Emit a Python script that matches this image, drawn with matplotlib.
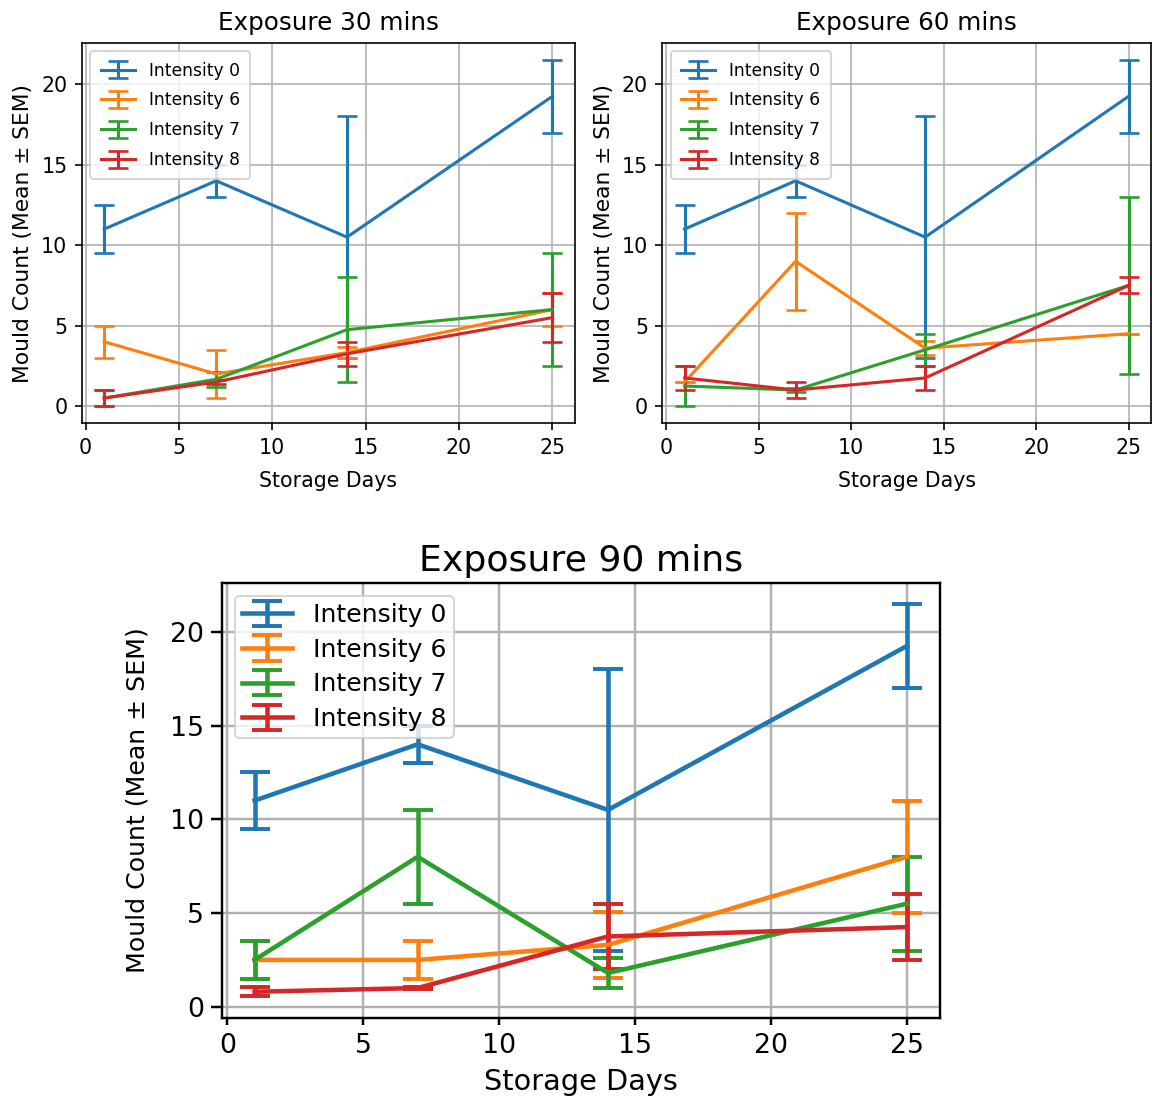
import matplotlib
matplotlib.use("Agg")
import matplotlib.pyplot as plt

days = [1, 7, 14, 25]
intensity_labels = ["Intensity 0", "Intensity 6", "Intensity 7", "Intensity 8"]

# mean mould count per storage day, one list per intensity
mean_30 = [
    [11, 14, 10.5, 19.25],
    [4, 2, 3.33, 6],
    [0.5, 1.67, 4.75, 6],
    [0.5, 1.5, 3.25, 5.5],
]
sem_30 = [
    [1.5, 1, 7.5, 2.25],
    [1, 1.5, 0.33, 1],
    [0.5, 0.47, 3.25, 3.5],
    [0.5, 0.1, 0.75, 1.5],
]

mean_60 = [
    [11, 14, 10.5, 19.25],
    [1.5, 9, 3.6, 4.5],
    [1.25, 1.0, 3.5, 7.5],
    [1.75, 1.0, 1.75, 7.5],
]
sem_60 = [
    [1.5, 1, 7.5, 2.25],
    [0, 3, 0.45, 0],
    [1.25, 0.1, 1.0, 5.5],
    [0.75, 0.5, 0.75, 0.5],
]

mean_90 = [
    [11, 14, 10.5, 19.25],
    [2.5, 2.5, 3.3, 8],
    [2.5, 8, 1.8, 5.5],
    [0.8, 1.0, 3.75, 4.25],
]
sem_90 = [
    [1.5, 1, 7.5, 2.25],
    [1, 1, 1.75, 3],
    [1, 2.5, 0.8, 2.5],
    [0.25, 0.05, 1.75, 1.75],
]

colors = ["#1f77b4", "#ff7f0e", "#2ca02c", "#d62728"]


def draw_panel(ax, means, sems, title, k=1.0):
    for m, s, lab, c in zip(means, sems, intensity_labels, colors):
        ax.errorbar(days, m, yerr=s, capsize=5 * k, label=lab, color=c,
                    linewidth=1.5 * k, elinewidth=1.5 * k, capthick=1.3 * k)
    ax.set_title(title, fontsize=12 * k)
    for sp in ax.spines.values():
        sp.set_linewidth(0.8 * k)
    ax.grid(True, linewidth=0.8 * k)


fig = plt.figure(figsize=(1152 / 148, 1097 / 148), dpi=148)

ax1 = fig.add_axes([0.071, 0.614, 0.428, 0.347])
ax2 = fig.add_axes([0.575, 0.614, 0.424, 0.347])
ax3 = fig.add_axes([0.1927, 0.072, 0.623, 0.3965])

# top row: 30 and 60 minute exposures
for ax, means, sems, title in [(ax1, mean_30, sem_30, "Exposure 30 mins"),
                               (ax2, mean_60, sem_60, "Exposure 60 mins")]:
    draw_panel(ax, means, sems, title)
    ax.set_xlabel("Storage Days", fontsize=10, labelpad=6.4)
    ax.set_ylabel("Mould Count (Mean ± SEM)", fontsize=10.6)
    ax.tick_params(labelsize=10)
    ax.legend(loc="upper left", fontsize=8.33, labelspacing=0.69,
              borderpad=0.6)

# bottom: 90 minute exposure, drawn larger
k = 1.47
draw_panel(ax3, mean_90, sem_90, "Exposure 90 mins", k=k)
ax3.set_ylim(-0.6, 22.6)
ax3.set_xlabel("Storage Days", fontsize=14, labelpad=4.5)
ax3.set_ylabel("Mould Count (Mean ± SEM)", fontsize=12.3, labelpad=10)
ax3.tick_params(axis="x", labelsize=13, length=3.4, width=1.2, pad=4)
ax3.tick_params(axis="y", labelsize=13, length=5.2, width=1.2)
ax3.legend(loc="upper left", fontsize=8.33 * k, labelspacing=0.42,
           borderpad=0.3)

fig.savefig("out.png", dpi=148)
